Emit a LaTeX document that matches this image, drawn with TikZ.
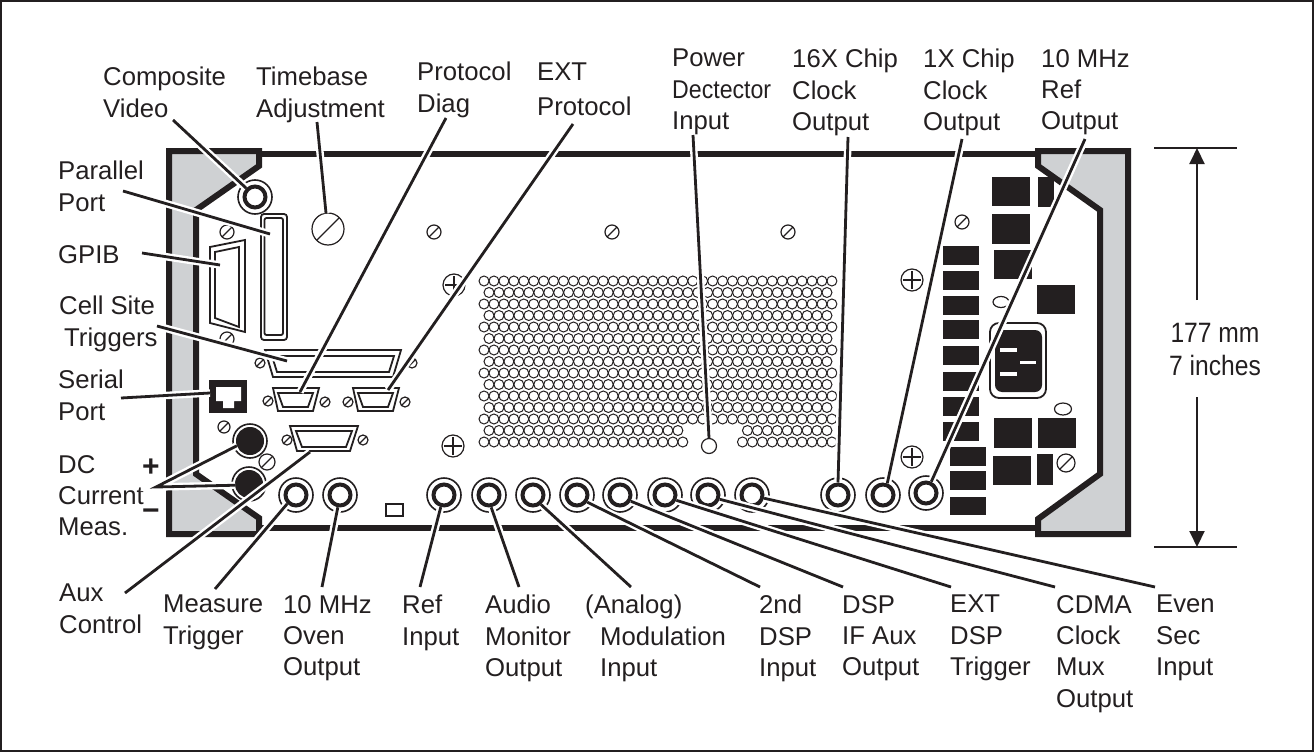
\documentclass[tikz,border=0pt]{standalone}
\usepackage{fontspec}
\usepackage{xcolor}
\usetikzlibrary{arrows.meta}
\setmainfont{Liberation Sans}
\newfontfamily\narrowfont[FakeStretch=0.88]{Liberation Sans}
\definecolor{bracketgray}{HTML}{CFD1D3}
\definecolor{inkblack}{HTML}{231F20}
\tikzset{
	lbl/.style={anchor=north west, inner sep=0pt, align=left, text=inkblack, font=\fontsize{25.7}{31.3}\selectfont},
	leader/.style={inkblack, line width=2.8pt, preaction={draw=white, line width=7.5pt}},
	bracket/.style={draw=inkblack, fill=bracketgray, line width=6pt, miter limit=10},
	port/.style={draw=inkblack, line width=1.8pt, fill=white},
	block/.style={fill=inkblack},
	screw/.style={draw=inkblack, line width=1.2pt},
	hole/.style={draw=inkblack, line width=1pt},
	jackouter/.style={circle, draw=inkblack, line width=1.6pt, fill=white, inner sep=0pt, minimum size=34pt},
	jackring/.style={circle, draw=inkblack, line width=4pt, fill=white, inner sep=0pt, minimum size=21pt},
	jackblack/.style={circle, draw=inkblack, line width=1pt, fill=inkblack, inner sep=0pt, minimum size=27pt},
	dimline/.style={inkblack, line width=2pt},
}
\begin{document}
\begin{tikzpicture}[x=1pt, y=-1pt]
	\useasboundingbox (0,0) rectangle (1314,752);
	\draw[inkblack, line width=1.5pt] (1,1) rectangle (1313,751);
	\draw[inkblack, line width=6pt] (255,154) -- (1045,154);
	\draw[inkblack, line width=6pt] (255,528) -- (1045,528);
	\draw[bracket] (169,151) -- (259,151) -- (259,166) -- (196,210) -- (196,474) -- (259,518) -- (259,534) -- (169,534) -- cycle;
	\draw[bracket] (1128,151) -- (1038,151) -- (1038,166) -- (1100,210) -- (1100,474) -- (1038,519) -- (1038,534) -- (1128,534) -- cycle;

	\foreach \i in {0,2,...,12}
		\foreach \j in {0,...,35}
			\draw[hole] ({484+\j*9.94},{281+\i*11.5}) circle (5pt);
	\foreach \i in {1,3,...,11}
		\foreach \j in {0,...,34}
			\draw[hole] ({489+\j*9.94},{281+\i*11.5}) circle (5pt);
	\foreach \j in {0,...,19,26,27,...,34}
		\draw[hole] ({489+\j*9.94},430.5) circle (5pt);
	\foreach \j in {0,...,20,26,27,...,35}
		\draw[hole] ({484+\j*9.94},442) circle (5pt);
	\node[circle, draw=inkblack, line width=1.2pt, inner sep=0pt, minimum size=15pt] (powerhole) at (709,446) {};

	\foreach \bx/\by/\bw/\bh in {992/177/38/29, 1038/177/16/30, 992/214/38/30, 994/250/38/29, 1037/285/38/29, 943/246/36/19, 943/271/36/19, 943/296/36/19, 943/320/36/19, 943/346/36/19, 943/372/36/19, 943/397/36/19, 943/422/36/19, 950/447/36/19, 950/471/36/19, 950/497/36/18, 994/418/38/30, 1038/418/38/30, 993/456/38/29, 1037/454/16/31}
		\fill[block] (\bx,\by) rectangle ({\bx+\bw},{\by+\bh});

	\draw[port, rounded corners=9pt] (990,323) rectangle (1046,398);
	\fill[block, rounded corners=7pt] (995,330) rectangle (1042,392);
	\fill[white] (1000,348) rectangle (1017,352);
	\fill[white] (1020,361) rectangle (1036,364);
	\fill[white] (1000,372) rectangle (1017,376);
	\draw[screw] (1001,302) ellipse (8pt and 5.5pt);
	\draw[screw] (1063,409) ellipse (8.5pt and 6pt);

	\foreach \sx/\sy/\sr in {227/232/7, 227/339/7, 328/229/16, 434/232/7, 612/232/7, 788/232/7, 962/222/7, 1066/463/9, 260/363/5, 412/363/5, 268/401/5, 325/402/5, 348/402/5, 405/402/5, 224/427/6, 287/440/5, 363/440/5, 267/462/8}
	{
		\draw[screw] (\sx,\sy) circle (\sr pt);
		\draw[screw] ({\sx-.7*\sr},{\sy+.7*\sr}) -- ({\sx+.7*\sr},{\sy-.7*\sr});
	}
	\foreach \sx/\sy in {454/285, 453/446, 912/280, 912/457}
	{
		\draw[screw] (\sx,\sy) circle (11pt);
		\draw[screw] ({\sx-9},\sy) -- ({\sx+9},\sy);
		\draw[screw] (\sx,{\sy-9}) -- (\sx,{\sy+9});
	}

	\draw[port, rounded corners=3pt] (261,214) rectangle (287,340);
	\draw[port, rounded corners=2pt] (264.5,218) rectangle (283,335);
	\draw[port] (210,247) -- (245,240) -- (245,332) -- (210,323) -- cycle;
	\draw[port] (215,252) -- (239,247) -- (239,327) -- (215,318) -- cycle;
	\draw[port] (265,350) -- (401,350) -- (393,377) -- (273,377) -- cycle;
	\draw[port] (272,356) -- (394,356) -- (389,372) -- (277,372) -- cycle;
	\draw[port] (273,388) -- (319,388) -- (313,411) -- (278,411) -- cycle;
	\draw[port] (278,393) -- (313,393) -- (308,407) -- (283,407) -- cycle;
	\draw[port] (353,388) -- (399,388) -- (393,411) -- (358,411) -- cycle;
	\draw[port] (358,393) -- (393,393) -- (388,407) -- (363,407) -- cycle;
	\draw[port] (290,426) -- (358,426) -- (350,451) -- (297,451) -- cycle;
	\draw[port] (296,431) -- (352,431) -- (346,447) -- (302,447) -- cycle;
	\fill[block] (209,380) rectangle (247,413);
	\fill[white] (216,387) -- (241,387) -- (241,401) -- (234,401) -- (234,408) -- (223,408) -- (223,401) -- (216,401) -- cycle;
	\draw[draw=inkblack, line width=1.5pt] (386,504) rectangle (403,516);

	\foreach \nm/\px/\py in {video/255/197, measure/296/495, oven/340/495, refin/444/495, audio/489/495, analog/533/495, seconddsp/577/495, dspif/620/495, extdsp/665/495, cdma/708/495, evensec/752/495, sixteenx/838/495, onex/883/495, tenref/926/493}
	{
		\node[jackouter] (\nm o) at (\px,\py) {};
		\node[jackring] (\nm) at (\px,\py) {};
	}
	\node[jackouter] (dcplus o) at (250,441) {};
	\node[jackblack] (dcplus) at (250,441) {};
	\node[jackouter] (dcminus o) at (249,484) {};
	\node[jackblack] (dcminus) at (249,484) {};

	\coordinate (timebase) at (326,213);
	\coordinate (paralleltip) at (270,234);
	\coordinate (gpibtip) at (220,265);
	\coordinate (celltip) at (287,361);
	\coordinate (serialtip) at (210,393);
	\coordinate (diagtip) at (300,392);
	\coordinate (exttip) at (388,390);
	\coordinate (auxtip) at (310,452);

	\node[lbl] (lcomposite) at (103,67) {Composite\\Video};
	\node[lbl] (ltimebase) at (256,67) {Timebase\\Adjustment};
	\node[lbl] (lprotocol) at (417,62) {Protocol\\Diag};
	\node[lbl] (lext) at (537,63) {EXT\\[3pt]Protocol};
	\node[lbl] (lpower) at (672,49) {Power\\\scalebox{.9}[1]{Dectector}\\Input};
	\node[lbl] (lsixteenx) at (792,49) {16X Chip\\Clock\\Output};
	\node[lbl] (lonex) at (923,49) {1X Chip\\Clock\\Output};
	\node[lbl] (ltenref) at (1041,49) {10 MHz\\Ref\\Output};
	\node[lbl] (lparallel) at (58,161) {Parallel\\Port};
	\node[lbl] (lgpib) at (58,245) {GPIB};
	\node[lbl] (lcell) at (59,296) {Cell Site\\\hspace*{5pt}Triggers};
	\node[lbl] (lserial) at (58,370) {Serial\\Port};
	\node[lbl] (ldc) at (58,455) {DC\\Current\\Meas.};
	\node[lbl] (laux) at (59,584) {Aux\\Control};
	\node[lbl] (lmeasure) at (163,595) {Measure\\Trigger};
	\node[lbl] (loven) at (283,595) {10 MHz\\Oven\\Output};
	\node[lbl] (lrefin) at (402,595) {Ref\\Input};
	\node[lbl] (laudio) at (485,595) {Audio\\Monitor\\Output};
	\node[lbl] (lanalog) at (585,595) {(Analog)\\\hspace*{15pt}Modulation\\\hspace*{15pt}Input};
	\node[lbl] (lseconddsp) at (759,595) {2nd\\DSP\\Input};
	\node[lbl] (ldspif) at (842,595) {DSP\\IF Aux\\Output};
	\node[lbl] (lextdsp) at (950,595) {EXT\\DSP\\Trigger};
	\node[lbl] (lcdma) at (1056,595) {CDMA\\Clock\\Mux\\Output};
	\node[lbl] (levensec) at (1156,595) {Even\\Sec\\Input};
	\node[inkblack, inner sep=0pt, font=\fontsize{30}{30}\selectfont\bfseries] (lplus) at (151,468) {+};
	\node[inkblack, inner sep=0pt, font=\fontsize{30}{30}\selectfont\bfseries] (lminus) at (151,515) {−};
	\node[inkblack, inner sep=0pt, font=\fontsize{28}{33}\narrowfont] (lsize) at (1215,352) {\begin{tabular}{@{}c@{}}177 mm\\7 inches\end{tabular}};

	\coordinate (fromvideo) at (173,120);
	\coordinate (fromtimebase) at (317,122);
	\coordinate (fromdiag) at (446,118);
	\coordinate (fromext) at (573,124);
	\coordinate (frompower) at (693,135);
	\coordinate (fromsixteenx) at (848,137);
	\coordinate (fromonex) at (962,139);
	\coordinate (fromtenref) at (1085,139);
	\coordinate (fromparallel) at (123,191);
	\coordinate (fromgpib) at (142,253);
	\coordinate (fromcell) at (157,326);
	\coordinate (fromserial) at (121,398);
	\coordinate (fromdc) at (156,487);
	\coordinate (fromaux) at (125,593);
	\coordinate (frommeasure) at (215,589);
	\coordinate (fromoven) at (322,587);
	\coordinate (fromrefin) at (420,587);
	\coordinate (fromaudio) at (519,587);
	\coordinate (fromanalog) at (631,587);
	\coordinate (fromseconddsp) at (760,587);
	\coordinate (fromdspif) at (843,587);
	\coordinate (fromextdsp) at (951,587);
	\coordinate (fromcdma) at (1055,587);
	\coordinate (fromevensec) at (1155,587);

	\draw[leader] (fromvideo) -- (video.135);
	\draw[leader] (fromtimebase) -- (timebase);
	\draw[leader] (fromdiag) -- (diagtip);
	\draw[leader] (fromext) -- (exttip);
	\draw[leader] (frompower) -- (powerhole.north);
	\draw[leader] (fromsixteenx) -- (sixteenx.north);
	\draw[leader] (fromonex) -- (onex.70);
	\draw[leader] (fromtenref) -- (tenref.65);
	\draw[leader] (fromparallel) -- (paralleltip);
	\draw[leader] (fromgpib) -- (gpibtip);
	\draw[leader] (fromcell) -- (celltip);
	\draw[leader] (fromserial) -- (serialtip);
	\draw[leader] (dcplus.200) -- (fromdc) -- (dcminus.185);
	\draw[leader] (fromaux) -- (auxtip);
	\draw[leader] (frommeasure) -- (measure.-135);
	\draw[leader] (fromoven) -- (oven.-100);
	\draw[leader] (fromrefin) -- (refin.-105);
	\draw[leader] (fromaudio) -- (audio.-80);
	\draw[leader] (fromanalog) -- (analog.-50);
	\draw[leader] (fromseconddsp) -- (seconddsp.-35);
	\draw[leader] (fromdspif) -- (dspif.-30);
	\draw[leader] (fromextdsp) -- (extdsp.-25);
	\draw[leader] (fromcdma) -- (cdma.-20);
	\draw[leader] (fromevensec) -- (evensec.-15);

	\coordinate (dimtop) at (1197,148);
	\coordinate (dimbot) at (1197,547);
	\coordinate (dimtopend) at (1197,300);
	\coordinate (dimbotend) at (1197,397);
	\draw[dimline] (1154,148) -- (1237,148);
	\draw[dimline] (1154,547) -- (1237,547);
	\draw[dimline, -{Triangle[length=16pt,width=15pt]}] (dimtopend) -- (dimtop);
	\draw[dimline, -{Triangle[length=16pt,width=15pt]}] (dimbotend) -- (dimbot);
\end{tikzpicture}
\end{document}
